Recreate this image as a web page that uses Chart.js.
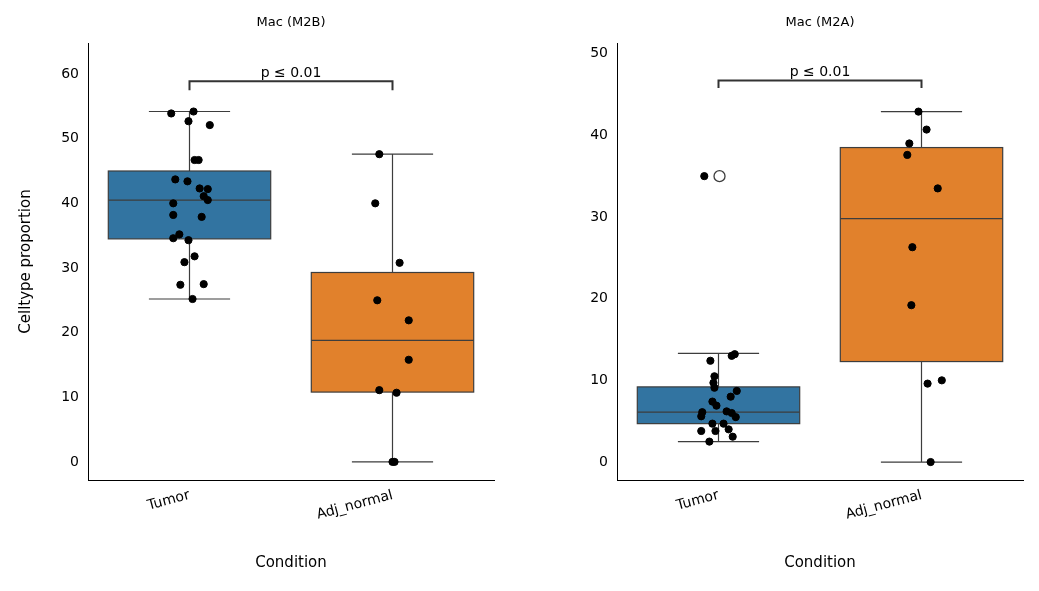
<!DOCTYPE html>
<html lang="en">
<head>
<meta charset="UTF-8">
<title>Mac M2B / M2A</title>
<script src="https://cdn.jsdelivr.net/npm/chart.js"></script>
<style>
  body { margin: 0; background: #fff; width: 1039px; height: 591px; position: relative; overflow: hidden; }
  .panel { position: absolute; top: 0; width: 520px; height: 591px; }
</style>
</head>
<body>
<div class="panel" style="left:0"><canvas id="m2b"></canvas></div>
<div class="panel" style="left:529px"><canvas id="m2a"></canvas></div>
<script>
const categories = ['Tumor', 'Adj_normal'];
const colors = ['#3274a1', '#e1812c'];

// Mac (M2B): jitter offset (category units) and value
const m2bTumorX = [-0.09, 0.02, -0.005, 0.10, 0.025, 0.045, -0.07, -0.01, 0.05, 0.09, -0.08, 0.07, 0.09, -0.08, 0.06, -0.05, -0.08, -0.005, 0.025, -0.025, -0.045, 0.07, 0.015];
const m2bTumorY = [53.9, 54.2, 52.7, 52.1, 46.7, 46.7, 43.7, 43.4, 42.3, 42.2, 40.0, 41.1, 40.5, 38.2, 37.9, 35.2, 34.6, 34.3, 31.8, 30.9, 27.4, 27.5, 25.2];
const m2bAdjX = [-0.065, -0.085, 0.035, -0.075, 0.08, 0.08, -0.065, 0.02, 0.0, 0.01];
const m2bAdjY = [47.6, 40.0, 30.8, 25.0, 21.9, 15.8, 11.1, 10.7, 0, 0];
// box stats: [whiskerLow, q1, median, q3, whiskerHigh]
const m2bBoxes = [[25.2, 34.5, 40.5, 45.0, 54.2], [0, 10.8, 18.8, 29.3, 47.6]];

// Mac (M2A)
const m2aTumorX = [-0.07, 0.08, 0.065, -0.04, -0.02, -0.025, -0.02, 0.09, 0.06, -0.08, -0.01, 0.04, -0.03, -0.085, 0.085, 0.065, -0.03, 0.025, -0.085, -0.015, 0.05, 0.07, -0.045];
const m2aTumorY = [35.0, 13.2, 13.0, 12.4, 10.5, 9.7, 9.1, 8.7, 8.0, 6.1, 6.9, 6.2, 7.4, 5.6, 5.5, 6.0, 4.7, 4.7, 3.8, 3.8, 4.0, 3.1, 2.5];
const m2aAdjX = [-0.015, 0.025, -0.06, -0.07, 0.08, -0.045, -0.05, 0.03, 0.1, 0.045];
const m2aAdjY = [42.9, 40.7, 39.0, 37.6, 33.5, 26.3, 19.2, 9.6, 10.0, 0];
const m2aBoxes = [[2.5, 4.7, 6.1, 9.2, 13.3], [0, 12.3, 29.8, 38.5, 42.9]];
const m2aOutliers = [[0.005, 35.0]];

const pLabel = 'p ≤ 0.01';
const FONT = "'DejaVu Sans', sans-serif";

function pts(xs, ys, c) { return xs.map((x, i) => ({ x: c + x, y: ys[i] })); }

const boxPlugin = {
  id: 'boxes',
  beforeDatasetsDraw(chart) {
    const o = chart.options.plugins.boxes;
    const ctx = chart.ctx, xs = chart.scales.x, ys = chart.scales.y;
    ctx.save();
    ctx.strokeStyle = '#3d3d3d';
    ctx.lineWidth = 1.2;
    o.boxes.forEach((b, i) => {
      const l = xs.getPixelForValue(i - 0.4), r = xs.getPixelForValue(i + 0.4);
      const cl = xs.getPixelForValue(i - 0.2), cr = xs.getPixelForValue(i + 0.2);
      const cx = xs.getPixelForValue(i);
      const [w0, q1, md, q3, w1] = b.map(v => ys.getPixelForValue(v));
      ctx.beginPath();
      ctx.moveTo(cx, w0); ctx.lineTo(cx, q1);
      ctx.moveTo(cx, q3); ctx.lineTo(cx, w1);
      ctx.moveTo(cl, w0); ctx.lineTo(cr, w0);
      ctx.moveTo(cl, w1); ctx.lineTo(cr, w1);
      ctx.stroke();
      ctx.fillStyle = colors[i];
      ctx.fillRect(l, q3, r - l, q1 - q3);
      ctx.strokeRect(l, q3, r - l, q1 - q3);
      ctx.beginPath(); ctx.moveTo(l, md); ctx.lineTo(r, md); ctx.stroke();
    });
    ctx.restore();
  },
  afterDraw(chart) {
    const o = chart.options.plugins.boxes;
    const ctx = chart.ctx, xs = chart.scales.x, ys = chart.scales.y, a = chart.chartArea;
    ctx.save();
    // significance bracket
    const x0 = xs.getPixelForValue(0), x1 = xs.getPixelForValue(1);
    const yt = ys.getPixelForValue(o.bracket[0]), yb = ys.getPixelForValue(o.bracket[1]);
    ctx.strokeStyle = '#333'; ctx.lineWidth = 2;
    ctx.beginPath(); ctx.moveTo(x0, yb); ctx.lineTo(x0, yt); ctx.lineTo(x1, yt); ctx.lineTo(x1, yb); ctx.stroke();
    ctx.fillStyle = '#000'; ctx.textAlign = 'center'; ctx.textBaseline = 'bottom';
    ctx.font = '14px ' + FONT;
    ctx.fillText(pLabel, (x0 + x1) / 2, yt - 1);
    // title and axis titles
    ctx.font = '13px ' + FONT; ctx.textBaseline = 'middle';
    ctx.fillText(o.title, (a.left + a.right) / 2, 23);
    ctx.font = '15px ' + FONT;
    ctx.fillText('Condition', (a.left + a.right) / 2, 563);
    if (o.yTitle) {
      ctx.translate(26, (a.top + a.bottom) / 2); ctx.rotate(-Math.PI / 2);
      ctx.fillText(o.yTitle, 0, 0);
    }
    ctx.restore();
  }
};

function makeChart(id, title, yTitle, boxes, tumor, adj, outliers, yMin, yMax, bracket) {
  const datasets = [
    { data: tumor, backgroundColor: '#000', borderColor: '#000', pointRadius: 3.6 },
    { data: adj, backgroundColor: '#000', borderColor: '#000', pointRadius: 3.6 }
  ];
  if (outliers) datasets.push({
    data: outliers.map(p => ({ x: p[0], y: p[1] })),
    backgroundColor: 'rgba(0,0,0,0)', borderColor: '#3d3d3d', borderWidth: 1.3, pointRadius: 5.5
  });
  new Chart(document.getElementById(id), {
    type: 'scatter',
    data: { datasets },
    options: {
      responsive: true, maintainAspectRatio: false, animation: false,
      devicePixelRatio: 1,
      layout: { padding: { top: 43, right: 26, left: 0, bottom: 0 } },
      plugins: {
        legend: { display: false }, tooltip: { enabled: false },
        boxes: { boxes, bracket, title, yTitle }
      },
      scales: {
        x: {
          type: 'linear', min: -0.5, max: 1.5,
          grid: { display: false, drawTicks: true, tickLength: 5, tickColor: '#000' },
          border: { color: '#000', width: 1 },
          afterBuildTicks: s => { s.ticks = [{ value: 0 }, { value: 1 }]; },
          afterFit: s => { s.height = 111; },
          ticks: {
            callback: v => categories[v], color: '#000', minRotation: 15, maxRotation: 15,
            font: { family: FONT, size: 14 }, padding: 2
          }
        },
        y: {
          min: yMin, max: yMax,
          grid: { display: false, drawTicks: true, tickLength: 5, tickColor: '#000' },
          border: { color: '#000', width: 1 },
          afterBuildTicks: s => {
            const t = []; for (let v = 0; v <= yMax; v += 10) t.push({ value: v }); s.ticks = t;
          },
          afterFit: s => { s.width = 88; },
          ticks: { color: '#000', font: { family: FONT, size: 14 }, padding: 4 }
        }
      }
    },
    plugins: [boxPlugin]
  });
}

makeChart('m2b', 'Mac (M2B)', 'Celltype proportion', m2bBoxes,
  pts(m2bTumorX, m2bTumorY, 0), pts(m2bAdjX, m2bAdjY, 1), null, -2.8, 64.8, [58.9, 57.5]);
makeChart('m2a', 'Mac (M2A)', null, m2aBoxes,
  pts(m2aTumorX, m2aTumorY, 0), pts(m2aAdjX, m2aAdjY, 1), m2aOutliers, -2.2, 51.3, [46.7, 45.8]);
</script>
</body>
</html>
